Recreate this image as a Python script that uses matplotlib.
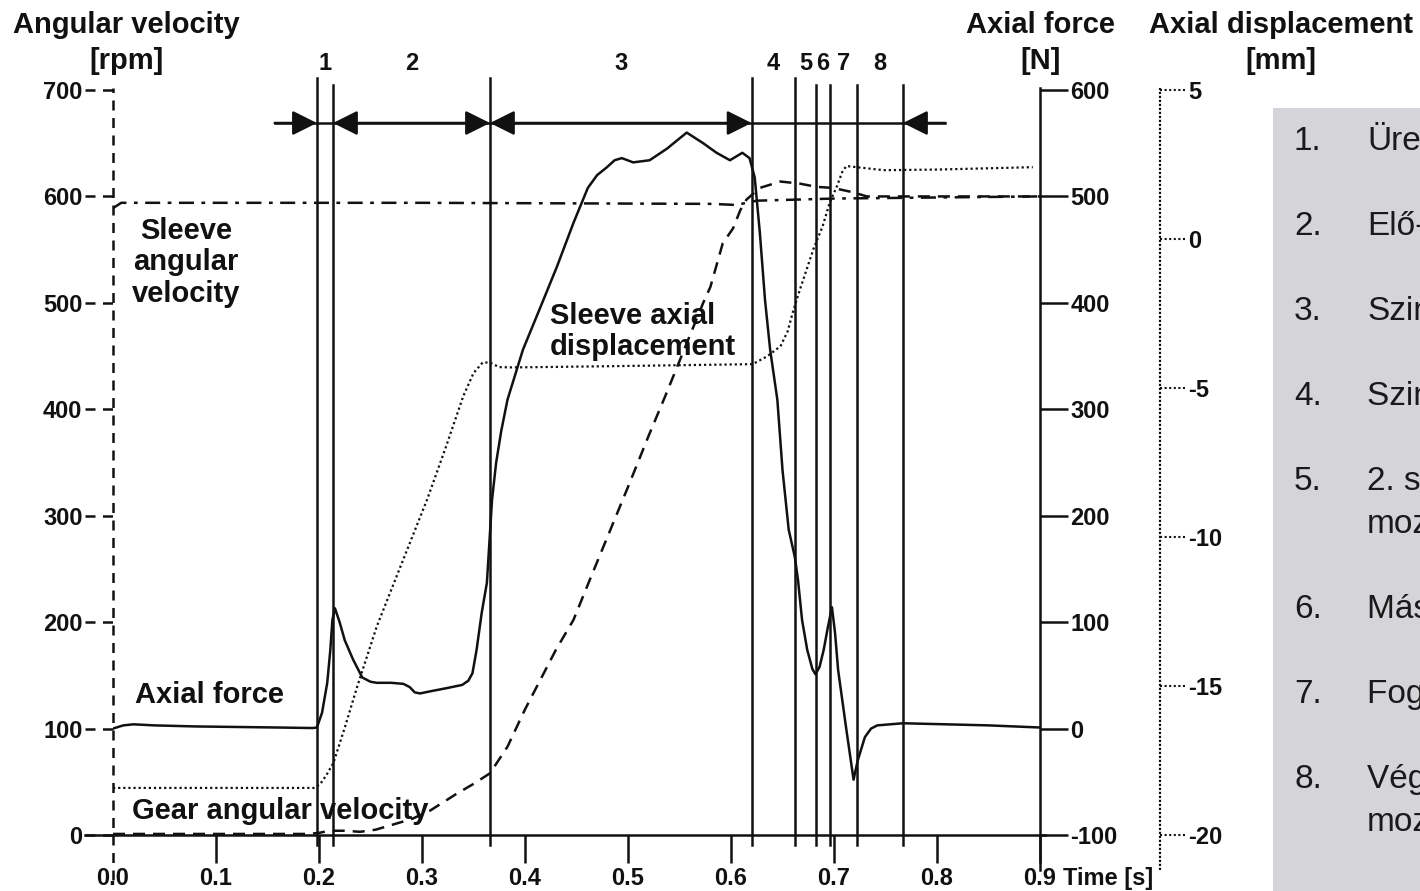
import numpy as np
import matplotlib
matplotlib.use('Agg')
import matplotlib.pyplot as plt
from matplotlib.patches import Rectangle

plt.rcParams['font.family'] = ['Liberation Sans', 'DejaVu Sans']
plt.rcParams['axes.unicode_minus'] = False

# --- data ---
# axial force [N]
force_t = [0.000, 0.010, 0.020, 0.040, 0.080, 0.120, 0.160, 0.194, 0.198, 0.203, 0.208, 0.211,
           0.213, 0.2155, 0.220, 0.225, 0.233, 0.242, 0.250, 0.256, 0.270, 0.282, 0.288, 0.293,
           0.298, 0.308, 0.324, 0.339, 0.345, 0.349, 0.353, 0.358, 0.363, 0.366, 0.368, 0.372,
           0.377, 0.383, 0.398, 0.415, 0.431, 0.447, 0.461, 0.470, 0.479, 0.487, 0.494, 0.505,
           0.521, 0.538, 0.557, 0.573, 0.586, 0.599, 0.611, 0.618, 0.623, 0.628, 0.633, 0.638,
           0.645, 0.650, 0.656, 0.662, 0.665, 0.669, 0.674, 0.679, 0.682, 0.686, 0.690, 0.694,
           0.698, 0.701, 0.704, 0.712, 0.719, 0.723, 0.730, 0.736, 0.742, 0.767, 0.850, 0.900]
force_n = [0, 3, 4, 3, 2, 1.5, 1, 0.5, 1, 15, 43, 74,
           102, 113, 100, 83, 65, 48, 44, 43, 43, 42, 39, 34,
           33, 35, 38, 41, 45, 52, 74, 109, 137, 184, 215, 250,
           280, 309, 356, 396, 434, 475, 508, 520, 527, 534, 536, 532,
           534, 545, 560, 550, 541, 534, 541, 536, 518, 466, 403, 356,
           309, 243, 187, 161, 140, 102, 74, 56, 51, 58, 74, 95,
           114, 90, 55, -1, -48, -30, -8, 0, 3, 5, 3, 1]

# sleeve axial displacement [mm]
disp_t = [0.000, 0.195, 0.201, 0.207, 0.214, 0.225, 0.237, 0.256, 0.279, 0.305, 0.323, 0.340,
          0.350, 0.359, 0.366, 0.375, 0.388, 0.479, 0.621, 0.635, 0.648, 0.655, 0.660, 0.667,
          0.680, 0.689, 0.696, 0.703, 0.708, 0.712, 0.722, 0.748, 0.800, 0.893]
disp_mm = [-18.42, -18.42, -18.3, -18.0, -17.58, -16.4, -15.03, -13.01, -11.0, -8.74, -7.0, -5.28,
           -4.5, -4.14, -4.15, -4.3, -4.31, -4.27, -4.2, -3.94, -3.6, -3.1, -2.46, -1.69,
           -0.34, 0.43, 1.24, 1.78, 2.25, 2.45, 2.41, 2.31, 2.33, 2.41]

# gear angular velocity [rpm]
gear_t = [0.000, 0.190, 0.200, 0.210, 0.225, 0.240, 0.255, 0.269, 0.290, 0.308, 0.334, 0.350,
          0.366, 0.383, 0.400, 0.415, 0.430, 0.447, 0.463, 0.480, 0.500, 0.520, 0.536, 0.557,
          0.573, 0.580, 0.592, 0.602, 0.609, 0.615, 0.628, 0.648, 0.667, 0.683, 0.699, 0.718,
          0.732, 0.900]
gear_rpm = [1, 1, 2, 4, 4, 3, 5, 9, 15, 23, 39, 48,
            58, 83, 118, 146, 174, 202, 240, 280, 327, 375, 412, 462,
            500, 515, 556, 570, 587, 597, 608, 614, 612, 609, 608, 604,
            600, 600]

# sleeve angular velocity [rpm]
sleeve_t = [0.000, 0.008, 0.300, 0.580, 0.605, 0.625, 0.700, 0.900]
sleeve_rpm = [589, 594, 594, 593, 592, 596, 598, 600]

# phase boundaries [s]
phase_edges = [0.198, 0.2136, 0.366, 0.620, 0.662, 0.683, 0.696, 0.722, 0.767]
phase_long = [True, False, True, True, True, False, False, False, False]

rpm_ticks = [0, 100, 200, 300, 400, 500, 600, 700]
force_ticks = [-100, 0, 100, 200, 300, 400, 500, 600]
disp_ticks = [-20, -15, -10, -5, 0, 5]
time_ticks = [0.0, 0.1, 0.2, 0.3, 0.4, 0.5, 0.6, 0.7, 0.8, 0.9]

panel_items = [
    ["1.", ["Üresjárat"]],
    ["2.", ["Elő-szinkronizálás"]],
    ["3.", ["Szinkronizálás"]],
    ["4.", ["Szinkrongyűrű elfordítása"]],
    ["5.", ["2. szabad", "mozgás"]],
    ["6.", ["Második ütközés"]],
    ["7.", ["Fogazat kapcsolódása"]],
    ["8.", ["Végső szabad", "mozgás"]],
]

# --- figure ---
W, H = 1420, 891
fig = plt.figure(figsize=(W / 100, H / 100), dpi=100)
fig.patch.set_facecolor('white')


def fx(px):
    return px / W


def fy(py):
    return 1 - py / H


ink = '#111111'
bold = dict(fontweight='bold', color=ink)

ax = fig.add_axes([fx(113), fy(835), (1040 - 113) / W, (835 - 90) / H])
ax.patch.set_visible(False)
ax.set_xlim(0, 0.9)
ax.set_ylim(0, 700)
axf = ax.twinx()
axf.set_ylim(-100, 600)
axd = ax.twinx()
axd.set_ylim(-20, 5)

for a in (ax, axf, axd):
    for s in a.spines.values():
        s.set_visible(False)

# curves
ax.plot(sleeve_t, sleeve_rpm, color=ink, lw=1.8, ls=(0, (6, 3, 1.5, 3)))
ax.plot(gear_t, gear_rpm, color=ink, lw=1.8, ls=(0, (4.8, 3.2)))
axf.plot(force_t, force_n, color=ink, lw=1.8)
axd.plot(disp_t, disp_mm, color=ink, lw=1.6, ls=(0, (1, 1.3)))

# x axis
ax.set_xticks(time_ticks)
ax.set_xticklabels(['%.1f' % v for v in time_ticks])
ax.tick_params(axis='x', length=20, width=1.8, color=ink, pad=3, labelsize=17)
ax.xaxis.get_major_ticks()[0].tick1line.set_visible(False)
ax.plot([-0.0302, 1.0054], [0, 0], transform=ax.transAxes, color=ink, lw=1.8, clip_on=False)

# left rpm axis (dashed)
ax.set_yticks(rpm_ticks)
ax.tick_params(axis='y', length=0, pad=22, labelsize=17)
ax.plot([0, 0], [-0.06, 1.003], transform=ax.transAxes, color=ink, lw=1.8,
        ls=(0, (4, 3)), clip_on=False)
for v in rpm_ticks:
    ax.plot([-0.0302, 0], [v, v], transform=ax.get_yaxis_transform(), color=ink, lw=1.8,
            ls=(0, (4, 3)), clip_on=False)

# right force axis (solid)
axf.set_yticks(force_ticks)
axf.tick_params(axis='y', length=20, width=1.8, color=ink, pad=2, labelsize=17)
ax.plot([1, 1], [-0.047, 1.003], transform=ax.transAxes, color=ink, lw=1.8, clip_on=False)

# displacement axis (dotted)
dx = (1160 - 113) / 927
axd.spines['right'].set_position(('axes', dx))
axd.set_yticks(disp_ticks)
axd.tick_params(axis='y', length=0, pad=20, labelsize=17)
ax.plot([dx, dx], [-0.047, 1.003], transform=ax.transAxes, color=ink, lw=1.6,
        ls=(0, (1, 0.8)), clip_on=False)
for v in disp_ticks:
    axd.plot([dx, dx + 0.028], [v, v], transform=axd.get_yaxis_transform(), color=ink,
             lw=1.5, ls=(0, (1, 1.2)), clip_on=False)

for a in (ax, axf, axd):
    for lab in a.get_xticklabels() + a.get_yticklabels():
        lab.set_fontweight('bold')
        lab.set_color(ink)

# phase lines and numbers
for t, long in zip(phase_edges, phase_long):
    ax.axvline(t, ymin=-0.0134, ymax=1.016 if long else 1.0067, color=ink, lw=1.8,
               clip_on=False)
xtr = ax.get_xaxis_transform()
for i in range(len(phase_edges) - 1):
    mid = (phase_edges[i] + phase_edges[i + 1]) / 2
    ax.text(mid, 1.036, str(i + 1), transform=xtr, ha='center', va='center', fontsize=17, **bold)

# arrow row
ya = 0.9557
x_start, x_end = 0.157, 0.808
ax.plot([x_start, x_end], [ya, ya], transform=xtr, color=ink, lw=1.8, clip_on=False)
head = dict(color=ink, lw=1.8, shrinkA=0, shrinkB=0, mutation_scale=15)
ax.annotate('', xy=(phase_edges[0], ya), xytext=(x_start, ya), xycoords=xtr, textcoords=xtr,
            arrowprops=dict(arrowstyle='-|>,head_length=1.0,head_width=0.5', **head))
ax.annotate('', xy=(phase_edges[2], ya), xytext=(phase_edges[1], ya), xycoords=xtr,
            textcoords=xtr,
            arrowprops=dict(arrowstyle='<|-|>,head_length=1.0,head_width=0.5', **head))
ax.annotate('', xy=(phase_edges[3], ya), xytext=(phase_edges[2], ya), xycoords=xtr,
            textcoords=xtr,
            arrowprops=dict(arrowstyle='<|-|>,head_length=1.0,head_width=0.5', **head))
ax.annotate('', xy=(phase_edges[8], ya), xytext=(x_end, ya), xycoords=xtr, textcoords=xtr,
            arrowprops=dict(arrowstyle='-|>,head_length=1.0,head_width=0.5', **head))

# curve labels
ax.text(0.0709, 538, 'Sleeve\nangular\nvelocity', ha='center', va='center', fontsize=21,
        linespacing=1.15, **bold)
ax.text(0.4243, 473, 'Sleeve axial\ndisplacement', ha='left', va='center', fontsize=21,
        linespacing=1.15, **bold)
ax.text(0.0214, 124, 'Axial force', ha='left', va='baseline', fontsize=21, **bold)
ax.text(0.0184, 15, 'Gear angular velocity', ha='left', va='baseline', fontsize=21, **bold)

# axis titles
fig.text(fx(126), fy(33), 'Angular velocity', ha='center', va='baseline', fontsize=21, **bold)
fig.text(fx(126), fy(69), '[rpm]', ha='center', va='baseline', fontsize=21, **bold)
fig.text(fx(1041), fy(33), 'Axial force', ha='center', va='baseline', fontsize=21, **bold)
fig.text(fx(1041), fy(69), '[N]', ha='center', va='baseline', fontsize=21, **bold)
fig.text(fx(1281), fy(33), 'Axial displacement', ha='center', va='baseline', fontsize=21, **bold)
fig.text(fx(1281), fy(69), '[mm]', ha='center', va='baseline', fontsize=21, **bold)
fig.text(fx(1063), fy(885), 'Time [s]', ha='left', va='baseline', fontsize=17, **bold)

# side panel (text runs off the right edge, as in the original slide)
fig.add_artist(Rectangle((fx(1273), 0), 1.0, fy(108), transform=fig.transFigure,
                         facecolor='#d5d5d9', edgecolor='none', zorder=0))
base = 150
for num, lines in panel_items:
    fig.text(fx(1294), fy(base), num, ha='left', va='baseline', fontsize=24, color='#1a1a1a')
    for k, line in enumerate(lines):
        fig.text(fx(1367), fy(base + 43 * k), line, ha='left', va='baseline', fontsize=24,
                 color='#1a1a1a')
    base += 43 * (len(lines) - 1) + 85

fig.savefig('out.png', dpi=100)
